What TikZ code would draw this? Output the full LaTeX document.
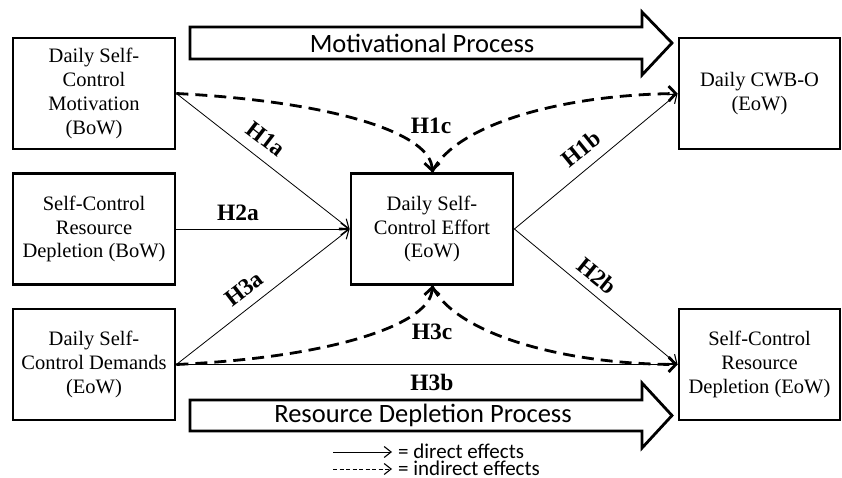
\documentclass[tikz,border=0pt]{standalone}
\usepackage{fontspec}
\setmainfont{Liberation Serif}
\newfontfamily\carlito{Carlito}
\usetikzlibrary{arrows.meta}
\begin{document}
\begin{tikzpicture}[x=1pt,y=-1pt,
 box/.style={draw,line width=2.8pt,minimum width=162pt,minimum height=111pt,align=center,inner sep=0pt,font=\fontsize{20.5}{23.8}\selectfont},
 lab/.style={font=\fontsize{23.5}{26}\selectfont\bfseries,inner sep=0pt},
 direct/.style={line width=0.8pt,-{Straight Barb[length=8pt,width=12pt,line width=1.1pt]}},
 indirect/.style={line width=2.8pt,dash pattern=on 12pt off 7pt,-{Straight Barb[length=7pt,width=15pt]}},
 block/.style={draw,line width=2.8pt,fill=white,line join=miter},
 proc/.style={font=\carlito\fontsize{26.5}{30}\selectfont,inner sep=0pt},
 leg/.style={font=\carlito\fontsize{21}{23}\selectfont,anchor=west,inner sep=0pt}]
\useasboundingbox (0,0) rectangle (842,478);

% boxes
\node[box] (A) at (94,93.5) {Daily Self-\\Control\\Motivation\\(BoW)};
\node[box] (B) at (94,229) {Self-Control\\Resource\\Depletion (BoW)};
\node[box] (C) at (94,364.5) {Daily Self-\\Control Demands\\(EoW)};
\node[box] (E) at (432,229) {Daily Self-\\Control Effort\\(EoW)};
\node[box,minimum width=161pt] (F) at (759.5,93.5) {Daily CWB-O\\(EoW)};
\node[box,minimum width=161pt] (G) at (759.5,364.5) {Self-Control\\Resource\\Depletion (EoW)};

% block arrows
\draw[block] (190,27) -- (642,27) -- (642,12) -- (672,43) -- (642,75) -- (642,59) -- (190,59) -- cycle;
\node[proc] (mp) at (422,43) {Motivational Process};
\draw[block] (190,400) -- (642,400) -- (642,383) -- (672,415.5) -- (642,448) -- (642,431) -- (190,431) -- cycle;
\node[proc] (rdp) at (423,415.5) {Resource Depletion Process};

% direct effects
\draw[direct] (A.east) -- (E.west);
\draw[direct] (B.east) -- (E.west);
\draw[direct] (C.east) -- (E.west);
\draw[direct] (E.east) -- (F.west);
\draw[direct] (E.east) -- (G.west);
\draw[direct] (C.east) -- (G.west);

% indirect effects
\draw[indirect] (A.east) .. controls (340,102) and (432,135) .. (E.north);
\draw[indirect] (E.north) .. controls (455,125) and (560,95) .. (F.west);
\draw[indirect] (C.east) .. controls (340,357) and (432,322) .. (E.south);
\draw[indirect] (E.south) .. controls (455,333) and (560,364) .. (G.west);

% labels
\node[lab,rotate=-37.5] (h1a) at (266,139) {H1a};
\node[lab,rotate=39] (h1b) at (581,149) {H1b};
\node[lab] (h2a) at (238,213) {H2a};
\node[lab,rotate=-39] (h2b) at (597,276) {H2b};
\node[lab,rotate=37.5] (h3a) at (244,289) {H3a};
\node[lab] (h1c) at (431,126) {H1c};
\node[lab] (h3c) at (432,332) {H3c};
\node[lab] (h3b) at (432,382) {H3b};

% legend
\coordinate (l1a) at (333,452);
\coordinate (l1b) at (392,452);
\coordinate (l2a) at (333,469);
\coordinate (l2b) at (392,469);
\draw[line width=0.8pt,-{Straight Barb[length=7pt,width=11pt,line width=1.1pt]}] (l1a) -- (l1b);
\draw[line width=0.8pt,dash pattern=on 4pt off 2.5pt,-{Straight Barb[length=7pt,width=11pt,line width=1.1pt]}] (l2a) -- (l2b);
\node[leg] (leg1) at (398,451) {= direct effects};
\node[leg] (leg2) at (398,468) {= indirect effects};
\end{tikzpicture}
\end{document}
